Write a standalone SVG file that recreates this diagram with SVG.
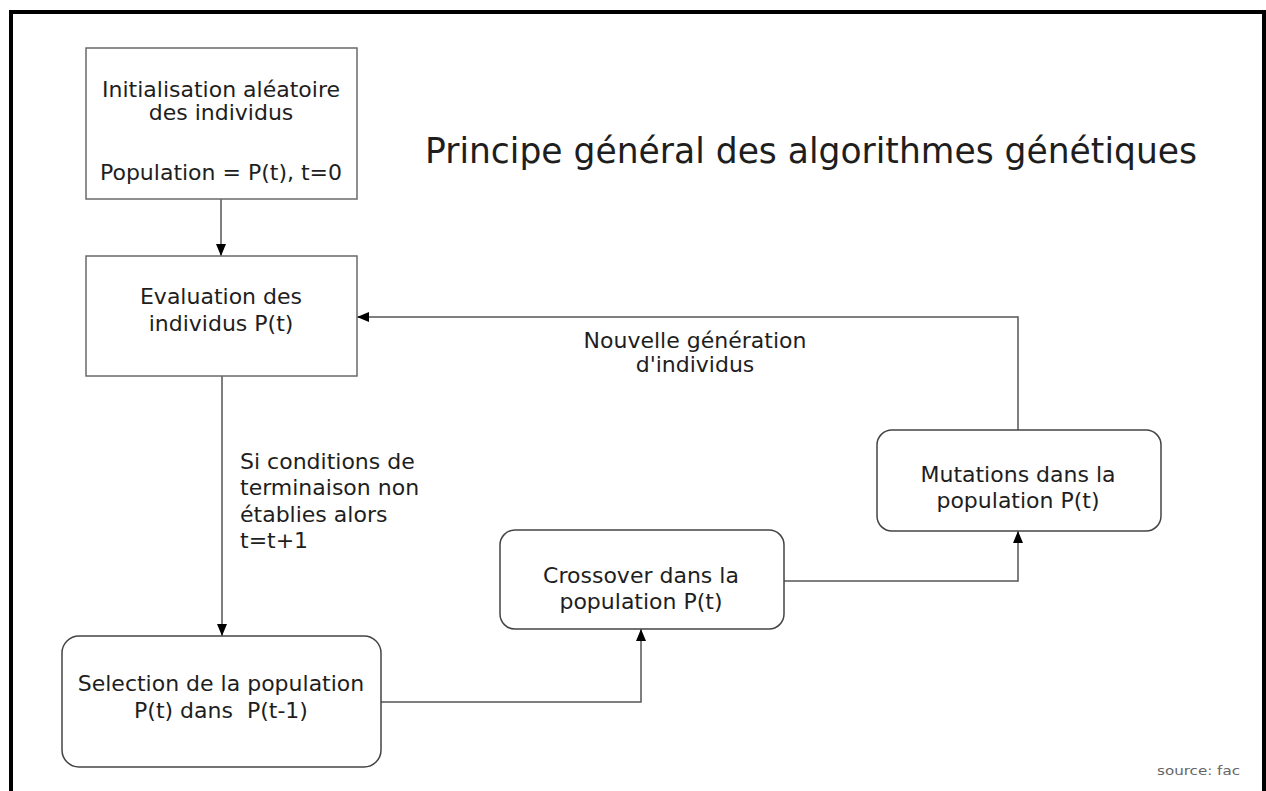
<svg xmlns="http://www.w3.org/2000/svg" width="1266" height="791" viewBox="0 0 1266 791">
<style>
text{font-family:"DejaVu Sans","Liberation Sans",sans-serif;fill:#1e1e1e;}
.t{font-size:22px;text-anchor:middle;}
.l{font-size:22px;}
.box{fill:#fff;stroke:#6a6a6a;stroke-width:1.5;}
.rbox{fill:#fff;stroke:#444;stroke-width:1.5;}
.c{fill:none;stroke:#555;stroke-width:1.5;}
</style>
<defs>
<marker id="ah" viewBox="0 0 12 10" refX="12" refY="5" markerWidth="12" markerHeight="10" markerUnits="userSpaceOnUse" orient="auto">
<path d="M0,0 L12,5 L0,10 z" fill="#000"/>
</marker>
</defs>
<rect width="1266" height="791" fill="#fff"/>
<rect x="11" y="12" width="1253" height="800" fill="none" stroke="#000" stroke-width="4"/>
<text x="425" y="163" style="font-size:35px" textLength="772" lengthAdjust="spacingAndGlyphs">Principe général des algorithmes génétiques</text>
<g id="connectors">
<path class="c" d="M221,199 V256" marker-end="url(#ah)"/>
<path class="c" d="M222,376 V636" marker-end="url(#ah)"/>
<path class="c" d="M381,702 H641 V629" marker-end="url(#ah)"/>
<path class="c" d="M784,581 H1018 V531" marker-end="url(#ah)"/>
<path class="c" d="M1018,430 V317 H357" marker-end="url(#ah)"/>
<text class="l" x="240" y="469">Si conditions de</text>
<text class="l" x="240" y="495">terminaison non</text>
<text class="l" x="240" y="522">établies alors</text>
<text class="l" x="240" y="548">t=t+1</text>
<text class="t" x="695" y="348">Nouvelle génération</text>
<text class="t" x="695" y="372">d'individus</text>
</g>
<g id="init">
<rect class="box" x="86" y="48" width="271" height="151"/>
<text class="t" x="221" y="97">Initialisation aléatoire</text>
<text class="t" x="221" y="120">des individus</text>
<text class="t" x="221" y="180">Population = P(t), t=0</text>
</g>
<g id="evaluation">
<rect class="box" x="86" y="256" width="271" height="120"/>
<text class="t" x="221" y="304">Evaluation des</text>
<text class="t" x="221" y="331">individus P(t)</text>
</g>
<g id="selection">
<rect class="rbox" x="62" y="636" width="319" height="131" rx="17" ry="17"/>
<text class="t" x="221" y="691">Selection de la population</text>
<text class="t" x="221" y="718">P(t) dans&#160; P(t-1)</text>
</g>
<g id="crossover">
<rect class="rbox" x="500" y="530" width="284" height="99" rx="15" ry="15"/>
<text class="t" x="641" y="583">Crossover dans la</text>
<text class="t" x="641" y="609">population P(t)</text>
</g>
<g id="mutations">
<rect class="rbox" x="877" y="430" width="284" height="101" rx="15" ry="15"/>
<text class="t" x="1018" y="482">Mutations dans la</text>
<text class="t" x="1018" y="508">population P(t)</text>
</g>
<text x="1157" y="775" style="font-size:13px;fill:#666" textLength="83" lengthAdjust="spacingAndGlyphs">source: fac</text>
</svg>
